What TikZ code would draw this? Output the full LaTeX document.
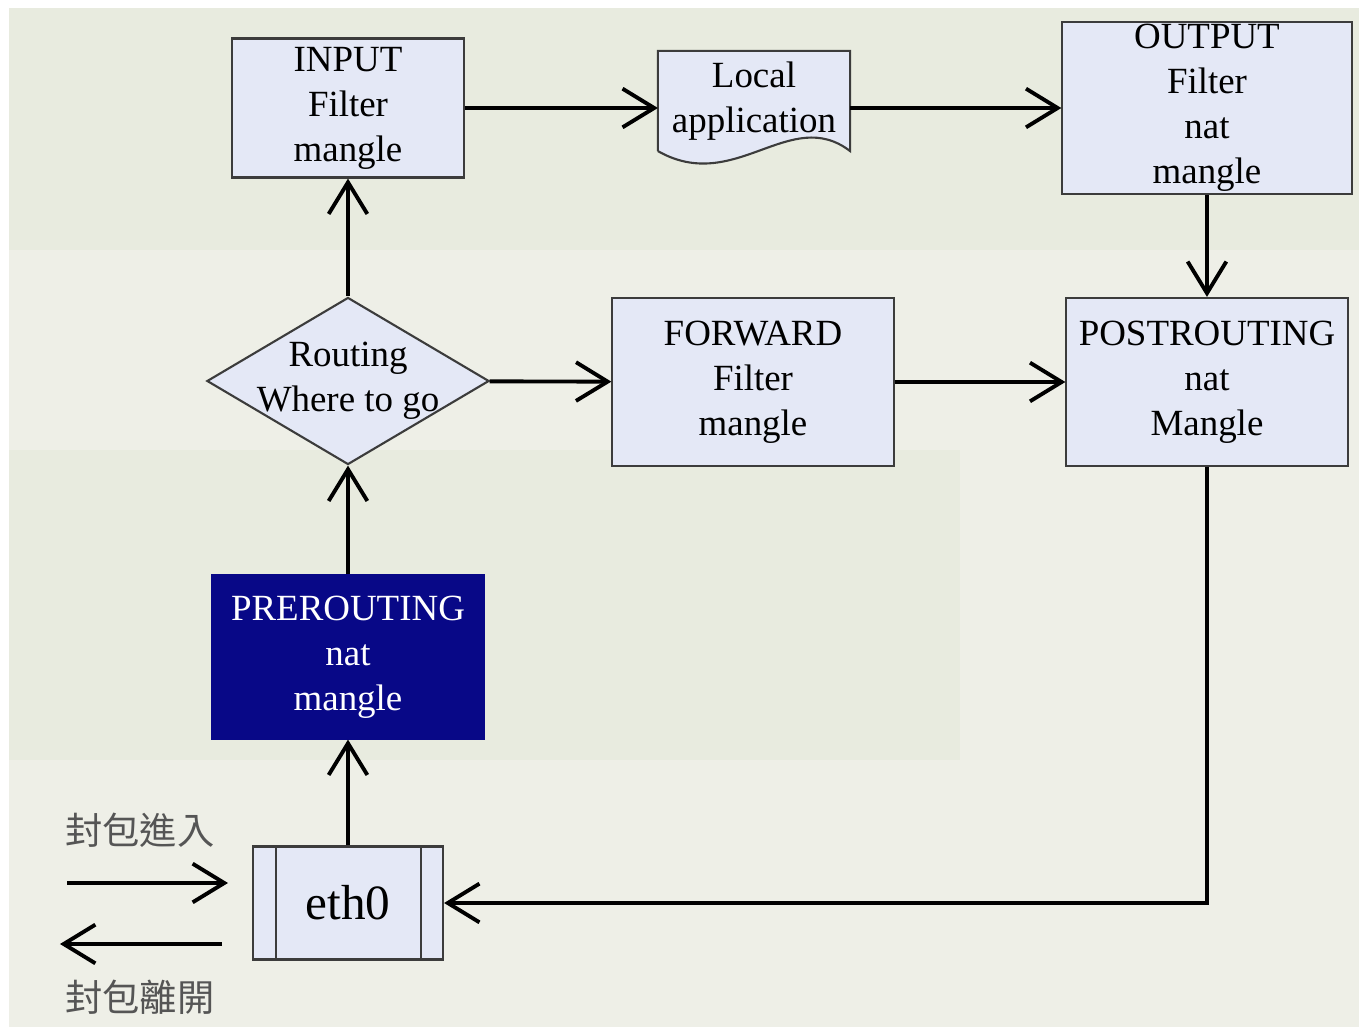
\documentclass[tikz,border=0pt]{standalone}
\usepackage{fontspec}
\setmainfont{Liberation Serif}
\newfontfamily\cjk{Noto Sans CJK TC}
\usetikzlibrary{shapes.geometric, arrows.meta, positioning, calc, backgrounds}
\definecolor{bgpaper}{RGB}{238,239,231}
\definecolor{bgband}{RGB}{232,235,223}
\definecolor{boxfill}{RGB}{228,232,246}
\definecolor{boxline}{RGB}{60,60,60}
\definecolor{navyfill}{RGB}{8,8,135}
\definecolor{cjkgray}{RGB}{85,85,85}

\begin{document}
\begin{tikzpicture}[x=0.01cm, y=-0.01cm,
    box/.style={rectangle, draw=boxline, fill=boxfill, line width=0.6pt, align=center,
                font=\fontsize{10.5}{12.8}\selectfont, inner sep=0pt},
    decision/.style={diamond, draw=boxline, fill=boxfill, line width=0.6pt, inner sep=0pt,
                minimum width=2.82cm, minimum height=1.67cm},
    flow/.style={line width=1.1pt, -{Straight Barb[length=9pt, width=11pt]}},
    side/.style={font=\cjk\fontsize{10.6}{12}\selectfont, text=cjkgray}
]
    \useasboundingbox (0,0) rectangle (1359,1027);

    % chains
    \node[box, minimum width=2.31cm, minimum height=1.39cm] (input) at (348,108) {INPUT\\Filter\\mangle};
    \node[box, draw=none, fill=none, minimum width=1.90cm, minimum height=0.98cm] (local) at (754,101) {Local\\application};
    \node[box, minimum width=2.89cm, minimum height=1.72cm] (output) at (1207,108) {OUTPUT\\Filter\\nat\\mangle};
    \node[decision, label={[align=center, font=\fontsize{10.5}{12.8}\selectfont]center:Routing\\Where to go}] (route) at (348,381) {};
    \node[box, minimum width=2.81cm, minimum height=1.68cm] (forward) at (753,382) {FORWARD\\Filter\\mangle};
    \node[box, minimum width=2.81cm, minimum height=1.68cm] (post) at (1207,382) {POSTROUTING\\nat\\Mangle};
    \node[box, fill=navyfill, draw=navyfill, text=white, minimum width=2.71cm, minimum height=1.63cm] (pre) at (348,657) {PREROUTING\\nat\\mangle};
    \node[box, font=\fontsize{14}{16}\selectfont, minimum width=1.90cm, minimum height=1.13cm] (eth) at (348,903) {eth0};

    % paper and the document outline of the local application
    \begin{scope}[on background layer]
        \fill[bgpaper] (9,8) rectangle (1359,1027);
        \fill[bgband] (9,8) rectangle (1359,250);
        \fill[bgband] (9,450) rectangle (960,760);
        \filldraw[fill=boxfill, draw=boxline, line width=0.6pt] (local.south west) -- (local.north west) -- (local.north east) -- (local.south east)
            .. controls (790,105) and (735,195) .. (local.south west);
    \end{scope}
    \draw[boxline, line width=0.6pt] ([xshift=0.24cm]eth.north west) -- ([xshift=0.24cm]eth.south west);
    \draw[boxline, line width=0.6pt] ([xshift=-0.23cm]eth.north east) -- ([xshift=-0.23cm]eth.south east);

    \draw[flow] (eth) -- (pre);
    \draw[flow] (pre) -- (route);
    \draw[flow] (route) -- (input);
    \draw[flow] (route) -- (forward);
    \draw[flow] (input) -- (input -| local.west);
    \draw[flow] (input -| local.east) -- (output);
    \draw[flow] (output) -- (post);
    \draw[flow] (forward) -- (post);
    \draw[flow] (post.south) |- (eth.east);

    % packets in / out
    \coordinate (inA) at (67,883);
    \coordinate (inB) at (228,883);
    \coordinate (outA) at (222,944);
    \coordinate (outB) at (60,944);
    \draw[flow] (inA) -- (inB);
    \draw[flow] (outA) -- (outB);
    \node[side] (enter) at (140,830) {封包進入};
    \node[side] (leave) at (140,997) {封包離開};
\end{tikzpicture}
\end{document}
